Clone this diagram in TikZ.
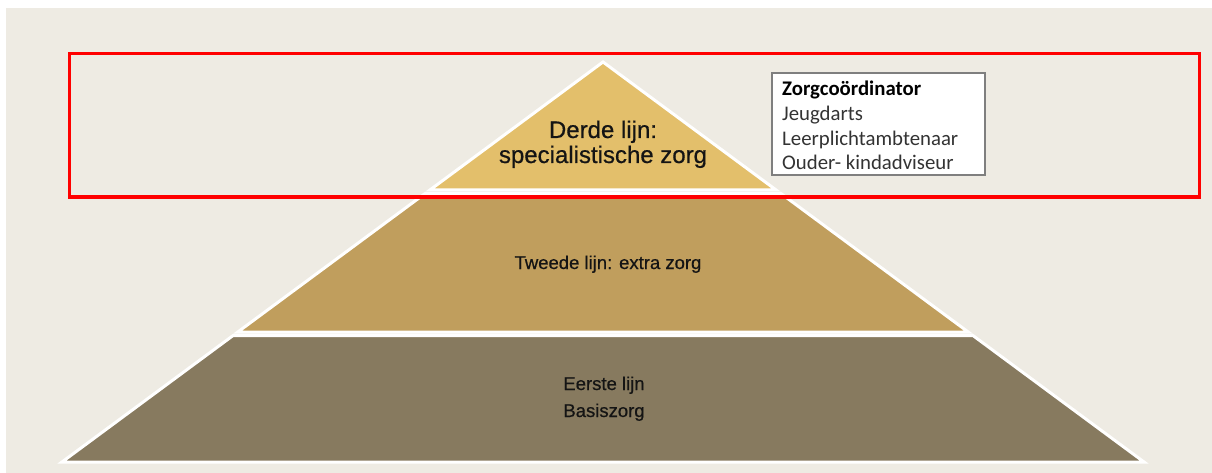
\documentclass[tikz,border=0pt]{standalone}
\usepackage{fontspec}
\setmainfont{Liberation Sans}
\newfontfamily\pyrfont[FakeBold=0.6]{Liberation Sans}
\newfontfamily\boxfont{Carlito}
\definecolor{bg}{HTML}{EEEBE3}
\definecolor{topc}{HTML}{E3BF6B}
\definecolor{midc}{HTML}{C09E5D}
\definecolor{botc}{HTML}{877A5F}
\definecolor{boxline}{HTML}{7F7F7F}
\definecolor{boxtext}{HTML}{333333}
\definecolor{pyrtext}{HTML}{141414}
\begin{document}
\begin{tikzpicture}[x=1pt,y=-1pt,
  band/.style={draw=white,line width=3pt,line join=miter},
  pyrbig/.style={inner sep=0pt,anchor=base,text=pyrtext,font=\pyrfont\fontsize{24}{26}\selectfont},
  pyrsmall/.style={inner sep=0pt,anchor=base,text=pyrtext,font=\pyrfont\fontsize{18.5}{20}\selectfont},
  boxline/.style={inner sep=0pt,anchor=base west,text=boxtext,font=\boxfont\fontsize{20.8}{22}\selectfont},
  infobox/.style={draw=boxline,fill=white,line width=1.5pt,minimum width=213pt,minimum height=102pt,inner sep=0pt}]
\useasboundingbox (0,0) rectangle (1212,473);
\fill[white] (0,0) rectangle (1212,473);
\fill[bg] (6,8) rectangle (1212,473);
% pyramid bands
\path[band,fill=botc] (233.1,335.5) -- (972.9,335.5) -- (1144,462) -- (62,462) -- cycle;
\path[band,fill=midc] (425.1,193.5) -- (780.9,193.5) -- (968.2,332) -- (237.8,332) -- cycle;
\path[band,fill=topc] (603,62) -- (776.1,190) -- (429.9,190) -- cycle;
% pyramid texts
\node[pyrbig] (derde) at (603,138) {Derde lijn:};
\node[pyrbig] (spec) at (603,163) {specialistische zorg};
\node[pyrsmall] (tweede) at (608,269) {Tweede lijn: extra zorg};
\node[pyrsmall] (eerste) at (604,390) {Eerste lijn};
\node[pyrsmall] (basis) at (604,417) {Basiszorg};
% info box
\node[infobox] (box) at (878.5,124) {};
\node[boxline,text=black,font=\boxfont\bfseries\fontsize{20.8}{22}\selectfont] (zc) at (782,96) {Zorgcoördinator};
\node[boxline] (jd) at (782,121) {Jeugdarts};
\node[boxline] (lp) at (782,146) {Leerplichtambtenaar};
\node[boxline] (ok) at (782,170) {Ouder- kindadviseur};
% red highlight
\draw[red,line width=3.5pt] (69.5,53.5) rectangle (1199.5,197);
\end{tikzpicture}
\end{document}
